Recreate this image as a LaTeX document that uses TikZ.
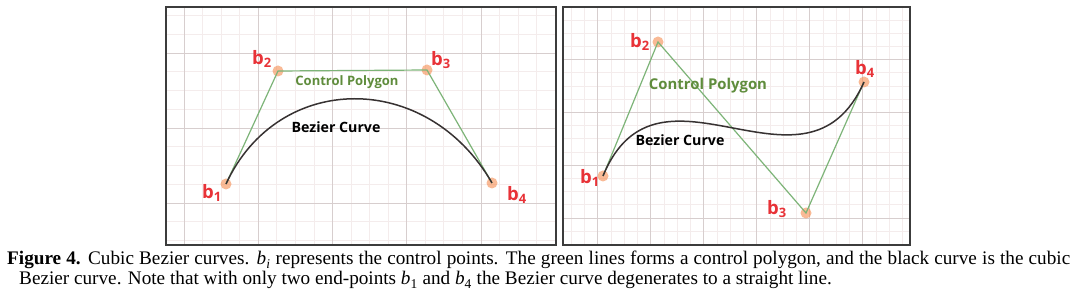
\documentclass[tikz,border=0pt]{standalone}
\usepackage{fontspec}
\setmainfont{Liberation Serif}
\newfontfamily\lblfont{Open Sans}
\definecolor{gridminor}{RGB}{244,236,236}
\definecolor{gridmajor}{RGB}{215,206,206}
\definecolor{framecol}{RGB}{60,60,60}
\definecolor{polycol}{RGB}{125,180,120}
\definecolor{polytext}{RGB}{95,140,60}
\definecolor{curvecol}{RGB}{55,50,50}
\definecolor{ptred}{RGB}{232,50,55}
\definecolor{glow}{RGB}{245,140,80}
\tikzset{
  minorline/.style={draw=gridminor, line width=0.8pt},
  majorline/.style={draw=gridmajor, line width=0.9pt},
  panel/.style={draw=framecol, line width=1.4pt},
  pt/.style={circle, inner sep=0pt, minimum size=11pt, fill=glow, fill opacity=0.6},
  poly/.style={draw=polycol, line width=1.2pt},
  bcurve/.style={draw=curvecol, line width=1.5pt},
  lbl/.style={text=ptred, font=\lblfont\bfseries\fontsize{18.5}{18.5}\selectfont, inner sep=0pt},
  cptext/.style={text=polytext, inner sep=0pt},
  bctext/.style={text=black, inner sep=0pt},
  captext/.style={anchor=base west, inner sep=0pt, font=\fontsize{19.2}{20}\selectfont}
}
\begin{document}
\begin{tikzpicture}[x=1pt,y=-1pt]
\useasboundingbox (0,0) rectangle (1080,304);
\fill[white] (0,0) rectangle (1080,304);
% ---------- left panel grid
\begin{scope}
\clip (166,7) rectangle (556,245);
\foreach \k in {-1,...,20} {\draw[minorline] ({184+18.56*\k},7) -- ({184+18.56*\k},245);}
\foreach \k in {-3,...,10} {\draw[minorline] (166,{53+18.75*\k}) -- (556,{53+18.75*\k});}
\foreach \k in {0,...,4} {\draw[majorline] ({184+74.25*\k},7) -- ({184+74.25*\k},245);}
\foreach \k in {0,...,2} {\draw[majorline] (166,{53+75*\k}) -- (556,{53+75*\k});}
\end{scope}
\draw[panel] (166,7) rectangle (556,245);
% ---------- right panel grid
\begin{scope}
\clip (563,7) rectangle (910,245);
\foreach \k in {-4,...,26} {\draw[minorline] ({862.7-13.25*\k},7) -- ({862.7-13.25*\k},245);}
\foreach \k in {-2,...,17} {\draw[minorline] (563,{218-13.2*\k}) -- (910,{218-13.2*\k});}
\foreach \k in {0,...,5} {\draw[majorline] ({862.7-53*\k},7) -- ({862.7-53*\k},245);}
\foreach \k in {0,...,3} {\draw[majorline] (563,{218-52.8*\k}) -- (910,{218-52.8*\k});}
\end{scope}
\draw[panel] (563,7) rectangle (910,245);
% ---------- left diagram
\node[pt] (L1) at (226,184) {};
\node[pt] (L2) at (278,71) {};
\node[pt] (L3) at (427,70) {};
\node[pt] (L4) at (492,183) {};
\draw[poly] (L1.center) -- (L2.center) -- (L3.center) -- (L4.center);
\draw[bcurve] (L1.center) .. controls (L2.center) and (L3.center) .. (L4.center);
\node[lbl] (lb1) at (212,193) {b\textsubscript{1}};
\node[lbl] (lb2) at (262,59) {b\textsubscript{2}};
\node[lbl] (lb3) at (441,60) {b\textsubscript{3}};
\node[lbl] (lb4) at (517,195) {b\textsubscript{4}};
\node[cptext, font=\lblfont\bfseries\fontsize{13}{14}\selectfont] (lcp) at (347,82) {Control Polygon};
\node[bctext, font=\lblfont\bfseries\fontsize{14.2}{15}\selectfont] (lbc) at (336,127) {Bezier Curve};
% ---------- right diagram
\node[pt] (R1) at (603,176) {};
\node[pt] (R2) at (658,42) {};
\node[pt] (R3) at (806,213) {};
\node[pt] (R4) at (864,82) {};
\draw[poly] (R1.center) -- (R2.center) -- (R3.center) -- (R4.center);
\draw[bcurve] (R1.center) .. controls (R2.center) and (R3.center) .. (R4.center);
\node[lbl] (rb1) at (590,178) {b\textsubscript{1}};
\node[lbl] (rb2) at (640,42) {b\textsubscript{2}};
\node[lbl] (rb3) at (777,209) {b\textsubscript{3}};
\node[lbl] (rb4) at (865,69) {b\textsubscript{4}};
\node[cptext, font=\lblfont\bfseries\fontsize{14.9}{16}\selectfont] (rcp) at (708,86) {Control Polygon};
\node[bctext, font=\lblfont\bfseries\fontsize{14.2}{15}\selectfont] (rbc) at (680,140) {Bezier Curve};
% ---------- caption
\node[captext] (cap1) at (7,265) {\makebox[1063pt][s]{\textbf{Figure 4.} Cubic Bezier curves. \textit{b}\textsubscript{\textit{i}} represents the control points. The green lines forms a control polygon, and the black curve is the cubic}};
\node[captext] (cap2) at (19,285) {Bezier curve. Note that with only two end-points \textit{b}\textsubscript{1} and \textit{b}\textsubscript{4} the Bezier curve degenerates to a straight line.};
\end{tikzpicture}
\end{document}
